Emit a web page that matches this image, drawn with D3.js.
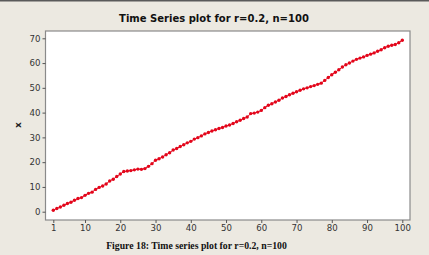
<!DOCTYPE html>
<html>
<head>
<meta charset="utf-8">
<script src="https://cdn.jsdelivr.net/npm/d3@7"></script>
<style>
  html, body { margin: 0; padding: 0; background: #ECE9E1; }
  svg { display: block; }
</style>
</head>
<body>
<svg id="chart" width="429" height="255"></svg>
<script>
// ---- data ----
const titleText = "Time Series plot for r=0.2, n=100";
const captionText = "Figure 18: Time series plot for r=0.2, n=100";
const yLabel = "x";
const xTicks = [1, 10, 20, 30, 40, 50, 60, 70, 80, 90, 100];
const yTicks = [0, 10, 20, 30, 40, 50, 60, 70];
const index = d3.range(1, 101);
const values = [
  0.6, 1.3, 1.9, 2.6, 3.3, 3.8, 4.6, 5.3, 5.7, 6.6,
  7.4, 7.9, 9.0, 9.8, 10.4, 11.2, 12.4, 13.1, 14.2, 15.2,
  16.2, 16.4, 16.6, 16.9, 17.2, 17.1, 17.4, 18.3, 19.4, 20.8,
  21.4, 22.1, 23.0, 23.8, 24.9, 25.5, 26.3, 27.0, 27.8, 28.4,
  29.3, 29.9, 30.6, 31.4, 32.0, 32.6, 33.1, 33.6, 34.0, 34.6,
  35.0, 35.6, 36.3, 36.9, 37.6, 38.2, 39.6, 39.8, 40.2, 40.9,
  42.0, 43.0, 43.6, 44.3, 45.0, 45.9, 46.5, 47.2, 47.8, 48.4,
  49.0, 49.6, 50.0, 50.5, 50.9, 51.4, 51.9, 53.0, 54.2, 55.3,
  56.3, 57.3, 58.4, 59.3, 60.0, 60.8, 61.5, 62.0, 62.5, 63.1,
  63.6, 64.1, 64.8, 65.4, 66.2, 66.8, 67.2, 67.5, 68.2, 69.2
];

// ---- layout ----
const frame = { left: 45.5, right: 410, top: 31, bottom: 220 };
const svg = d3.select("#chart");

const x = d3.scaleLinear().domain([1, 100]).range([53.3, 402.3]);
const y = d3.scaleLinear().domain([0, 70]).range([211.7, 38.3]);

// top border line of the image
svg.append("line").attr("x1", 0).attr("x2", 429).attr("y1", 0.75).attr("y2", 0.75)
  .attr("stroke", "#5a5a5a").attr("stroke-width", 1.5);

// plot area
svg.append("rect")
  .attr("x", frame.left).attr("y", frame.top)
  .attr("width", frame.right - frame.left).attr("height", frame.bottom - frame.top)
  .attr("fill", "#ffffff").attr("stroke", "#8a8a8a").attr("stroke-width", 1.2);

// axes
const fontAxis = "'DejaVu Sans', Verdana, sans-serif";
const yAxis = d3.axisLeft(y).tickValues(yTicks).tickSize(3).tickPadding(2).tickFormat(d3.format("d"));
const gy = svg.append("g").attr("transform", `translate(${frame.left},0)`).call(yAxis);
const xAxis = d3.axisBottom(x).tickValues(xTicks).tickSize(3).tickPadding(2).tickFormat(d3.format("d"));
const gx = svg.append("g").attr("transform", `translate(0,${frame.bottom})`).call(xAxis);
[gx, gy].forEach(g => {
  g.select(".domain").remove();
  g.selectAll(".tick line").attr("stroke", "#555");
  g.selectAll(".tick text").attr("fill", "#333").style("font-family", fontAxis).style("font-size", "8.6px");
});

// y label
svg.append("text")
  .attr("transform", "translate(21,125) rotate(-90)")
  .attr("text-anchor", "middle")
  .style("font-family", fontAxis).style("font-size", "9px").style("font-weight", "bold")
  .attr("fill", "#222").text(yLabel);

// series line + markers
const red = "#E3061B";
svg.append("path")
  .datum(index)
  .attr("fill", "none").attr("stroke", red).attr("stroke-width", 1)
  .attr("d", d3.line().x(i => x(i)).y(i => y(values[i - 1])));
svg.append("g").selectAll("circle").data(index).join("circle")
  .attr("cx", i => x(i)).attr("cy", i => y(values[i - 1]))
  .attr("r", 1.7).attr("fill", red);

// fit text to a target width
function fitText(sel, target, size) {
  sel.style("font-size", size + "px");
  const w = sel.node().getComputedTextLength();
  sel.style("font-size", (size * target / w).toFixed(2) + "px");
}

// title
const t = svg.append("text")
  .attr("x", 214).attr("y", 22).attr("text-anchor", "middle")
  .style("font-family", fontAxis).style("font-weight", "bold")
  .attr("fill", "#111").text(titleText);
fitText(t, 190, 11);

// caption
const c = svg.append("text")
  .attr("x", 196.5).attr("y", 248.5).attr("text-anchor", "middle")
  .style("font-family", "'Liberation Serif', 'Times New Roman', serif").style("font-weight", "bold")
  .attr("fill", "#111").text(captionText);
fitText(c, 181, 10);
</script>
</body>
</html>
